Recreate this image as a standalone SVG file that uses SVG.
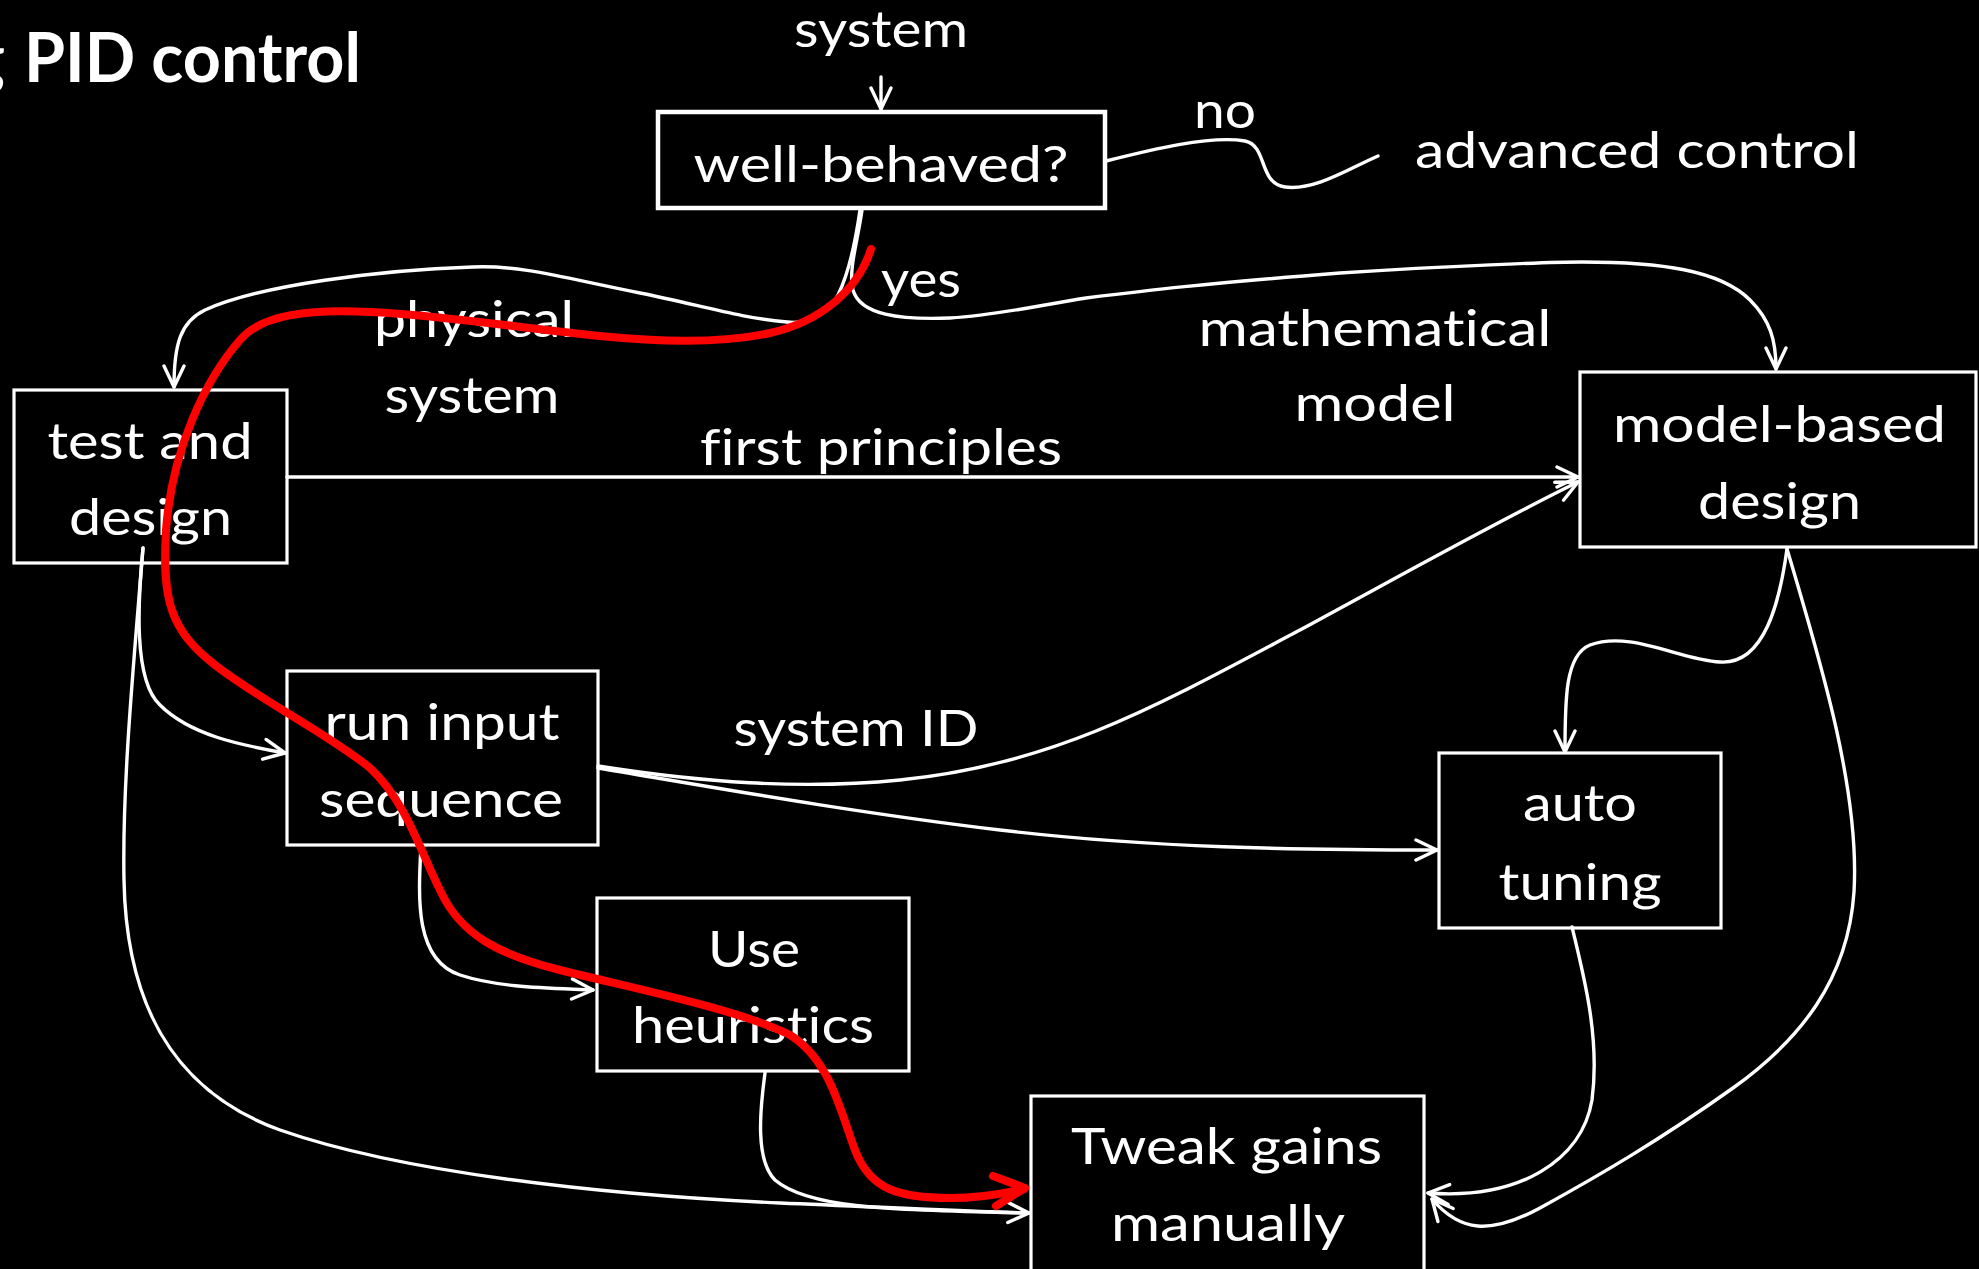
<svg xmlns="http://www.w3.org/2000/svg" width="1979" height="1269" viewBox="0 0 1979 1269">
<style>
text{font-family:Lato,"Open Sans","Liberation Sans",sans-serif;fill:#fff;font-size:51px;text-anchor:middle;font-variant-ligatures:none;font-feature-settings:"liga" 0,"clig" 0,"dlig" 0}
.title{font-weight:bold;font-size:68px;text-anchor:start}
.box{fill:none;stroke:#fff;stroke-width:3.2}
.conn{fill:none;stroke:#fff;stroke-width:3.4;stroke-linecap:round}
.red{fill:none;stroke:#f00;stroke-width:8;stroke-linecap:round;stroke-linejoin:round}
</style>
<defs>
<marker id="arr" markerUnits="userSpaceOnUse" viewBox="0 0 26 24" refX="24" refY="12" markerWidth="26" markerHeight="24" orient="auto">
<path d="M3,2 L24,12 L3,22" fill="none" stroke="#fff" stroke-width="3.4" stroke-linecap="round" stroke-linejoin="round"/>
</marker>
</defs>
<rect width="1979" height="1269" fill="#000"/>
<g id="title">
<text class="title" x="5" y="82" style="text-anchor:end">g</text>
<text class="title" x="24" y="82" textLength="337" lengthAdjust="spacingAndGlyphs">PID control</text>
</g>
<g id="connectors">
<path class="conn" d="M881,77 L881,109" marker-end="url(#arr)"/>
<path class="conn" d="M1106,161 C1150,150 1210,135 1245,141 C1268,146 1258,183 1285,187 C1315,191 1350,168 1378,156"/>
<path class="conn" d="M860,210 C855,245 848,275 838,295 C825,318 805,324 787,322 C740,318 700,305 640,293 C560,277 520,265 473,267 C380,270 260,285 205,310 C180,322 174,345 174,387" marker-end="url(#arr)"/>
<path class="conn" d="M862,210 C858,240 848,270 853,290 C860,315 900,320 950,318 C1000,315 1040,305 1086,298 C1150,290 1200,284 1340,273 C1450,266 1550,262 1582,262 C1660,262 1720,270 1750,300 C1770,320 1776,340 1776,369" marker-end="url(#arr)"/>
<path class="conn" d="M287,477 L1578,477" marker-end="url(#arr)"/>
<path class="conn" d="M598,766 C700,782 800,790 900,780 C1050,765 1150,710 1300,630 C1420,565 1500,520 1578,482" marker-end="url(#arr)"/>
<path class="conn" d="M598,768 C700,785 850,812 1000,830 C1150,848 1300,850 1437,850" marker-end="url(#arr)"/>
<path class="conn" d="M143,548 C138,600 133,680 160,705 C190,735 240,745 285,753" marker-end="url(#arr)"/>
<path class="conn" d="M143,548 C135,650 122,780 124,880 C126,1000 170,1090 280,1130 C400,1172 600,1195 780,1203 C900,1208 980,1212 1029,1213" marker-end="url(#arr)"/>
<path class="conn" d="M421,846 C418,900 415,960 460,975 C500,988 550,988 593,990" marker-end="url(#arr)"/>
<path class="conn" d="M765,1073 C760,1110 755,1160 775,1180 C810,1210 900,1210 1027,1213"/>
<path class="conn" d="M1787,549 C1780,600 1765,665 1720,662 C1680,660 1630,630 1590,645 C1565,655 1565,700 1565,752" marker-end="url(#arr)"/>
<path class="conn" d="M1787,549 C1820,660 1860,790 1854,892 C1848,980 1800,1040 1733,1088 C1660,1140 1600,1175 1540,1208 C1490,1235 1460,1232 1432,1199" marker-end="url(#arr)"/>
<path class="conn" d="M1572,927 C1585,980 1600,1040 1592,1100 C1582,1160 1520,1200 1428,1193" marker-end="url(#arr)"/>
</g>
<g id="node-wellbehaved">
<rect class="box" x="658" y="112" width="447" height="96" style="stroke-width:4.5"/>
<text x="881" y="182" textLength="375" lengthAdjust="spacingAndGlyphs">well-behaved?</text>
</g>
<g id="node-test">
<rect class="box" x="14" y="390" width="273" height="173"/>
<text x="150" y="459" textLength="205" lengthAdjust="spacingAndGlyphs">test and</text>
<text x="150.5" y="535" textLength="163" lengthAdjust="spacingAndGlyphs">design</text>
</g>
<g id="node-run">
<rect class="box" x="287" y="671" width="311" height="174"/>
<text x="442" y="740" textLength="235" lengthAdjust="spacingAndGlyphs">run input</text>
<text x="441" y="817" textLength="244" lengthAdjust="spacingAndGlyphs">sequence</text>
</g>
<g id="node-heuristics">
<rect class="box" x="597" y="898" width="312" height="173"/>
<text x="754" y="967" textLength="92" lengthAdjust="spacingAndGlyphs">Use</text>
<text x="753" y="1043" textLength="242" lengthAdjust="spacingAndGlyphs">heuristics</text>
</g>
<g id="node-tweak">
<rect class="box" x="1031" y="1096" width="393" height="190"/>
<text x="1226.5" y="1164" textLength="311" lengthAdjust="spacingAndGlyphs">Tweak gains</text>
<text x="1228" y="1241" textLength="234" lengthAdjust="spacingAndGlyphs">manually</text>
</g>
<g id="node-auto">
<rect class="box" x="1439" y="753" width="282" height="175"/>
<text x="1580" y="821" textLength="114" lengthAdjust="spacingAndGlyphs">auto</text>
<text x="1580" y="900" textLength="163" lengthAdjust="spacingAndGlyphs">tuning</text>
</g>
<g id="node-model">
<rect class="box" x="1580" y="372" width="396" height="175"/>
<text x="1779.5" y="442" textLength="333" lengthAdjust="spacingAndGlyphs">model-based</text>
<text x="1779.5" y="519" textLength="163" lengthAdjust="spacingAndGlyphs">design</text>
</g>
<g id="labels">
<text x="881" y="47" textLength="174" lengthAdjust="spacingAndGlyphs">system</text>
<text x="1225" y="128" textLength="62" lengthAdjust="spacingAndGlyphs">no</text>
<text x="1637" y="168" textLength="444" lengthAdjust="spacingAndGlyphs">advanced control</text>
<text x="921" y="297" textLength="80" lengthAdjust="spacingAndGlyphs">yes</text>
<text x="474" y="337" textLength="200" lengthAdjust="spacingAndGlyphs">physical</text>
<text x="472" y="413" textLength="175" lengthAdjust="spacingAndGlyphs">system</text>
<text x="1375" y="346" textLength="353" lengthAdjust="spacingAndGlyphs">mathematical</text>
<text x="1375" y="421" textLength="161" lengthAdjust="spacingAndGlyphs">model</text>
<text x="881" y="465" textLength="362" lengthAdjust="spacingAndGlyphs">first principles</text>
<text x="856" y="746" textLength="245" lengthAdjust="spacingAndGlyphs">system ID</text>
</g>
<g id="highlight">
<path class="red" d="M871,249 C858,290 820,322 770,333 C720,344 660,342 600,336 C520,328 440,315 370,312 C310,309 262,314 240,340 C205,380 172,450 166,530 C162,600 170,630 215,665 C260,700 330,735 370,768 C405,800 420,850 440,890 C460,935 500,955 560,970 C640,990 740,1010 790,1035 C830,1060 840,1110 855,1150 C870,1190 900,1198 950,1198 C985,1198 1010,1192 1024,1189"/>
<path class="red" d="M993,1176 L1025,1188 L996,1206"/>
</g>
</svg>
